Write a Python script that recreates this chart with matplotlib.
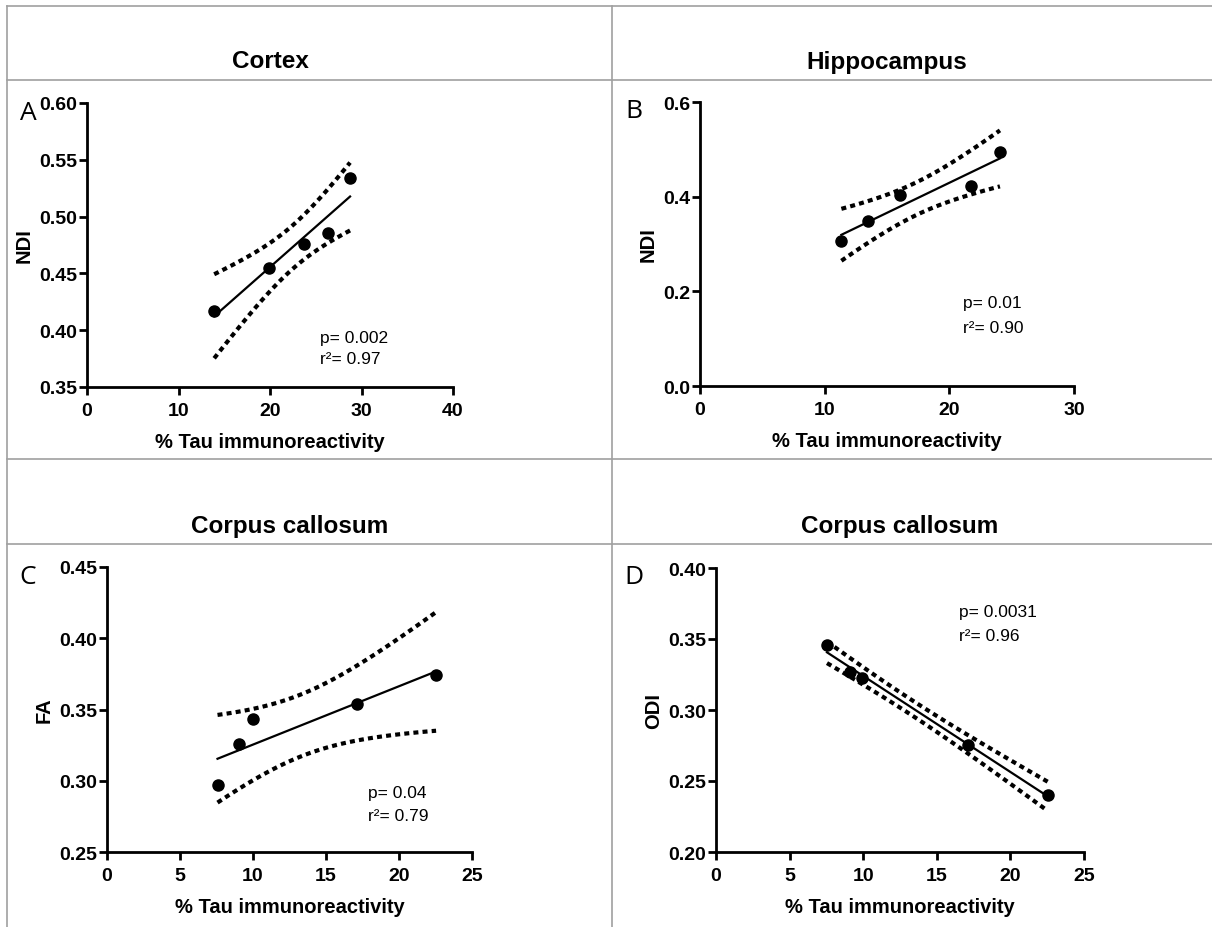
import numpy as np
import matplotlib.pyplot as plt
from matplotlib.lines import Line2D

plt.rcParams['font.family'] = ['Liberation Sans', 'DejaVu Sans']

# Values
cortex_tau = [13.9, 19.85, 23.75, 26.3, 28.75]
cortex_ndi = [0.4165, 0.455, 0.476, 0.4854, 0.534]

hippo_tau = [11.34, 13.45, 16.02, 21.76, 24.06]
hippo_ndi = [0.307, 0.349, 0.403, 0.423, 0.495]

cc_fa_tau = [7.57, 9.06, 9.99, 17.13, 22.54]
cc_fa = [0.2969, 0.3255, 0.3436, 0.3536, 0.374]

cc_odi_tau = [7.54, 9.08, 9.94, 17.1, 22.53]
cc_odi = [0.3456, 0.3266, 0.3224, 0.2757, 0.2401]

titles = ['Cortex', 'Hippocampus', 'Corpus callosum', 'Corpus callosum']
letters = ['A', 'B', 'C', 'D']
ylabels = ['NDI', 'NDI', 'FA', 'ODI']
stats_p = ['p= 0.002', 'p= 0.01', 'p= 0.04', 'p= 0.0031']
stats_r2 = ['r\u00b2= 0.97', 'r\u00b2= 0.90', 'r\u00b2= 0.79', 'r\u00b2= 0.96']

T_95_DF3 = 3.182  # two-sided 95% t value, n=5 -> df=3

W, H = 1212, 928
fig = plt.figure(figsize=(W / 100, H / 100), dpi=100)


def px_rect(left, right, top, bottom):
    return [left / W, 1 - bottom / H, (right - left) / W, (bottom - top) / H]


panels = [
    dict(x=cortex_tau, y=cortex_ndi, rect=px_rect(87, 453, 104, 388),
         xlim=(0, 40), xticks=[0, 10, 20, 30, 40],
         ylim=(0.35, 0.60), yticks=[0.35, 0.40, 0.45, 0.50, 0.55, 0.60], yfmt='%.2f',
         txt=(25.5, 0.394, 0.375)),
    dict(x=hippo_tau, y=hippo_ndi, rect=px_rect(700, 1074, 103, 387),
         xlim=(0, 30), xticks=[0, 10, 20, 30],
         ylim=(0.0, 0.6), yticks=[0.0, 0.2, 0.4, 0.6], yfmt='%.1f',
         txt=(21.1, 0.176, 0.124)),
    dict(x=cc_fa_tau, y=cc_fa, rect=px_rect(107, 472, 568, 853),
         xlim=(0, 25), xticks=[0, 5, 10, 15, 20, 25],
         ylim=(0.25, 0.45), yticks=[0.25, 0.30, 0.35, 0.40, 0.45], yfmt='%.2f',
         txt=(17.86, 0.2917, 0.2753)),
    dict(x=cc_odi_tau, y=cc_odi, rect=px_rect(716, 1084, 569, 853),
         xlim=(0, 25), xticks=[0, 5, 10, 15, 20, 25],
         ylim=(0.20, 0.40), yticks=[0.20, 0.25, 0.30, 0.35, 0.40], yfmt='%.2f',
         txt=(16.53, 0.3693, 0.3524)),
]

for i, p in enumerate(panels):
    ax = fig.add_axes(p['rect'])
    x = np.array(p['x'])
    y = np.array(p['y'])

    # linear regression with 95% confidence band
    slope, intercept = np.polyfit(x, y, 1)
    resid = y - (slope * x + intercept)
    s = np.sqrt(np.sum(resid ** 2) / (len(x) - 2))
    sxx = np.sum((x - x.mean()) ** 2)
    xf = np.linspace(x.min(), x.max(), 100)
    yf = slope * xf + intercept
    half = T_95_DF3 * s * np.sqrt(1 / len(x) + (xf - x.mean()) ** 2 / sxx)

    ax.plot(xf, yf, color='black', lw=1.6)
    ax.plot(xf, yf + half, color='black', lw=3, dashes=(1.2, 1.0), dash_capstyle='butt')
    ax.plot(xf, yf - half, color='black', lw=3, dashes=(1.2, 1.0), dash_capstyle='butt')
    ax.plot(x, y, 'o', color='black', markersize=8, zorder=5)

    ax.set_xlim(p['xlim'])
    ax.set_ylim(p['ylim'])
    ax.set_xticks(p['xticks'])
    ax.set_yticks(p['yticks'])
    ax.set_yticklabels([p['yfmt'] % v for v in p['yticks']])
    ax.spines['top'].set_visible(False)
    ax.spines['right'].set_visible(False)
    ax.spines['left'].set_linewidth(2.0)
    ax.spines['bottom'].set_linewidth(2.0)
    ax.tick_params(axis='both', width=2.0, length=6, direction='out', labelsize=14)
    ax.tick_params(axis='x', pad=5)
    ax.tick_params(axis='y', pad=1)
    for lab in ax.get_xticklabels() + ax.get_yticklabels():
        lab.set_fontweight('bold')
    ax.set_xlabel('% Tau immunoreactivity', fontsize=14.5, fontweight='bold', labelpad=9)
    ax.set_ylabel(ylabels[i], fontsize=14.5, fontweight='bold', labelpad=4)

    tx, ty1, ty2 = p['txt']
    ax.text(tx, ty1, stats_p[i], fontsize=12.5, va='center', ha='left')
    ax.text(tx, ty2, stats_r2[i], fontsize=12.5, va='center', ha='left')

    # title above the panel, centred on the axes
    title_y = 62 if i < 2 else 527
    bb = ax.get_position()
    fig.text(bb.x0 + bb.width / 2, 1 - title_y / H, titles[i], fontsize=17.5,
             fontweight='bold', ha='center', va='center')

# panel letters
letter_pos = [(28, 114), (634, 112), (28, 578), (634, 577)]
for letter, (lx, ly) in zip(letters, letter_pos):
    fig.text(lx / W, 1 - ly / H, letter, fontsize=19, ha='center', va='center',
             family=['Open Sans', 'DejaVu Sans'])

# grey table lines
grey = '#a0a0a0'
for yy in [7, 81, 460, 545]:
    fig.add_artist(Line2D([7 / W, 1], [1 - yy / H, 1 - yy / H], color=grey, lw=1.2))
for xx in [7, 612]:
    fig.add_artist(Line2D([xx / W, xx / W], [0, 1 - 7 / H], color=grey, lw=1.2))

fig.savefig('out.png', dpi=100)
